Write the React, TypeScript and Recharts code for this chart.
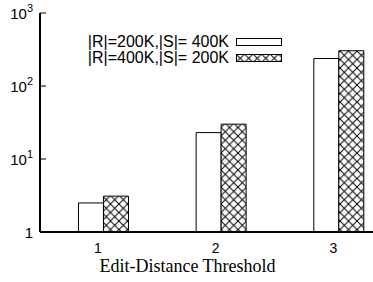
import { BarChart, Bar, XAxis, YAxis, Legend } from 'recharts';

// edit-distance thresholds on the x axis
const thresholds = [1, 2, 3];
// |R|=200K, |S|=400K (plain bars)
const r200s400 = [2.5, 23, 238];
// |R|=400K, |S|=200K (cross-hatched bars)
const r400s200 = [3.1, 30, 304];
const yTicks = [1, 10, 100, 1000];

const data = thresholds.map((t, i) => ({ t, a: r200s400[i], b: r400s200[i] }));

const SANS = '"Liberation Sans", Arial, Helvetica, sans-serif';
const SERIF = '"Liberation Serif", "Times New Roman", serif';

const YTick = (props: any) => {
  const { x, y, payload } = props;
  const exp = Math.round(Math.log10(payload.value));
  return (
    <text x={x} y={y} dy={5.5} textAnchor="end" fontSize={15} fontFamily={SANS} fill="#000">
      {exp === 0 ? '1' : (
        <>
          10<tspan dy={-7} fontSize={11}>{exp}</tspan>
        </>
      )}
    </text>
  );
};

const XTick = (props: any) => {
  const { x, y, payload } = props;
  return (
    <text x={x} y={y} dy={5} textAnchor="middle" fontSize={14} fontFamily={SANS} fill="#000">
      {payload.value}
    </text>
  );
};

const XTitle = (props: any) => {
  const { viewBox } = props;
  return (
    <text
      x={viewBox.x + viewBox.width / 2 - 20}
      y={viewBox.y + 40}
      textAnchor="middle"
      fontSize={18}
      fontFamily={SERIF}
      fill="#000"
    >
      Edit-Distance Threshold
    </text>
  );
};

const KeyBox = ({ payload }: any) => (
  <div style={{ fontFamily: SANS, fontSize: 16, color: '#000' }}>
    {(payload || []).map((entry: any) => (
      <div key={entry.value} style={{ display: 'flex', alignItems: 'center', height: 16 }}>
        <span style={{ width: 149, textAlign: 'right', whiteSpace: 'nowrap' }}>{entry.value}</span>
        <svg width={46} height={8} style={{ marginLeft: 7 }}>
          <rect x={0.5} y={0.5} width={45} height={7} fill={entry.color} stroke="#000" strokeWidth={1} />
        </svg>
      </div>
    ))}
  </div>
);

export default function App() {
  const dom: [number, number] = [0.507, 3.354];
  return (
    <div style={{ position: 'absolute', left: 0, top: 0, width: 373, height: 282, overflow: 'hidden', background: '#fff' }}>
      <BarChart
        width={400}
        height={282}
        data={data}
        margin={{ top: 13, right: 25, bottom: 0, left: 0 }}
        barGap={0}
        barSize={25}
      >
        <defs>
          <pattern id="hatch" patternUnits="userSpaceOnUse" width={8.5} height={8.5}>
            <rect width={8.5} height={8.5} fill="#fff" />
            <path d="M0,0 L8.5,8.5 M0,8.5 L8.5,0" stroke="#000" strokeWidth={1} />
          </pattern>
        </defs>
        <XAxis
          dataKey="t"
          type="number"
          domain={dom}
          allowDataOverflow
          ticks={thresholds}
          height={50}
          tickLine={false}
          tick={<XTick />}
          tickMargin={10}
          axisLine={{ stroke: '#000', strokeWidth: 2 }}
          label={<XTitle />}
        />
        <XAxis
          xAxisId="top"
          dataKey="t"
          orientation="top"
          type="number"
          domain={dom}
          allowDataOverflow
          ticks={thresholds}
          height={0}
          tick={false}
          tickSize={-6}
          tickLine={{ stroke: '#000', strokeWidth: 1 }}
          axisLine={{ stroke: '#000', strokeWidth: 2 }}
        />
        <XAxis
          xAxisId="bars"
          dataKey="t"
          type="number"
          domain={[0.462, 3.309]}
          allowDataOverflow
          ticks={thresholds}
          hide
        />
        <YAxis
          scale="log"
          type="number"
          domain={[1, 1000]}
          allowDataOverflow
          ticks={yTicks}
          width={40}
          tickSize={-6}
          tickMargin={13}
          tick={<YTick />}
          tickLine={{ stroke: '#000', strokeWidth: 1 }}
          axisLine={{ stroke: '#000', strokeWidth: 2 }}
        />
        <YAxis
          yAxisId="right"
          orientation="right"
          scale="log"
          type="number"
          domain={[1, 1000]}
          allowDataOverflow
          ticks={yTicks}
          width={0}
          tickSize={-6}
          tick={false}
          tickLine={{ stroke: '#000', strokeWidth: 1 }}
          axisLine={{ stroke: '#000', strokeWidth: 2 }}
        />
        <Legend
          layout="horizontal"
          verticalAlign="middle"
          align="center"
          content={<KeyBox />}
          wrapperStyle={{ left: 80, top: 34, width: 'auto' }}
        />
        <Bar xAxisId="bars" dataKey="a" name="|R|=200K,|S|= 400K" fill="#fff" stroke="#000" strokeWidth={1} isAnimationActive={false} />
        <Bar xAxisId="bars" dataKey="b" name="|R|=400K,|S|= 200K" fill="url(#hatch)" stroke="#000" strokeWidth={1} isAnimationActive={false} />
      </BarChart>
    </div>
  );
}
